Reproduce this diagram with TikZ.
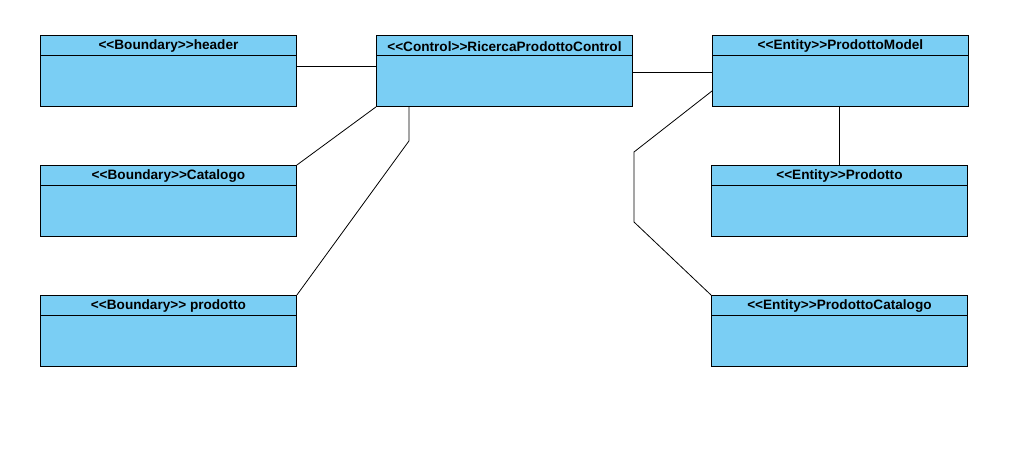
\documentclass[tikz,border=0pt]{standalone}
\usepackage{fontspec}
\setmainfont{Liberation Sans}[Ligatures=ResetAll]
\usetikzlibrary{calc}
\definecolor{clsfill}{HTML}{7ACEF4}
\tikzset{
  cls/.style={draw=black, fill=clsfill, line width=0.9pt, minimum width=256pt, minimum height=71pt, anchor=north west, inner sep=0pt},
  clstitle/.style={font=\bfseries\fontsize{13.6}{15}\selectfont, anchor=center, inner sep=0pt},
  conn/.style={draw=black, line width=0.8pt}
}
\newcommand\umlbox[4]{%
  \node[cls] (#1) at (#2,#3) {};
  \draw[line width=0.9pt] ($(#1.north west)+(0,-20)$) -- ($(#1.north east)+(0,-20)$);
  \node[clstitle] (#1t) at ($(#1.north)+(0,-11.3)$) {#4};
}
\begin{document}
\begin{tikzpicture}[x=1pt,y=1pt]
\useasboundingbox (0,0) rectangle (1026,-458);
\umlbox{hdr}{40}{-35}{<{}<Boundary>{}>header}
\umlbox{cat}{40}{-165}{<{}<Boundary>{}>Catalogo}
\umlbox{prd}{40}{-295}{<{}<Boundary>{}> prodotto}
\umlbox{ctl}{376}{-35}{<{}<Control>{}>RicercaProdottoControl}
\umlbox{pm}{712}{-35}{<{}<Entity>{}>ProdottoModel}
\umlbox{pe}{711}{-165}{<{}<Entity>{}>Prodotto}
\umlbox{pc}{711}{-295}{<{}<Entity>{}>ProdottoCatalogo}
% connectors
\draw[conn] ($(hdr.north east)+(0,-31)$) -- ($(ctl.north west)+(0,-31)$);
\draw[conn] (ctl.south west) -- (cat.north east);
\draw[conn] ($(ctl.south west)+(33,0)$) -- ($(ctl.south west)+(33,-34)$) -- (prd.north east);
\draw[conn] ($(ctl.north east)+(0,-37)$) -- ($(pm.north west)+(0,-37)$);
\draw[conn] ($(pm.north west)+(0,-56)$) -- (634,-152) -- (634,-222) -- (pc.north west);
\draw[conn] ($(pm.south west)+(127,0)$) -- ($(pe.north west)+(128,0)$);
\end{tikzpicture}
\end{document}
